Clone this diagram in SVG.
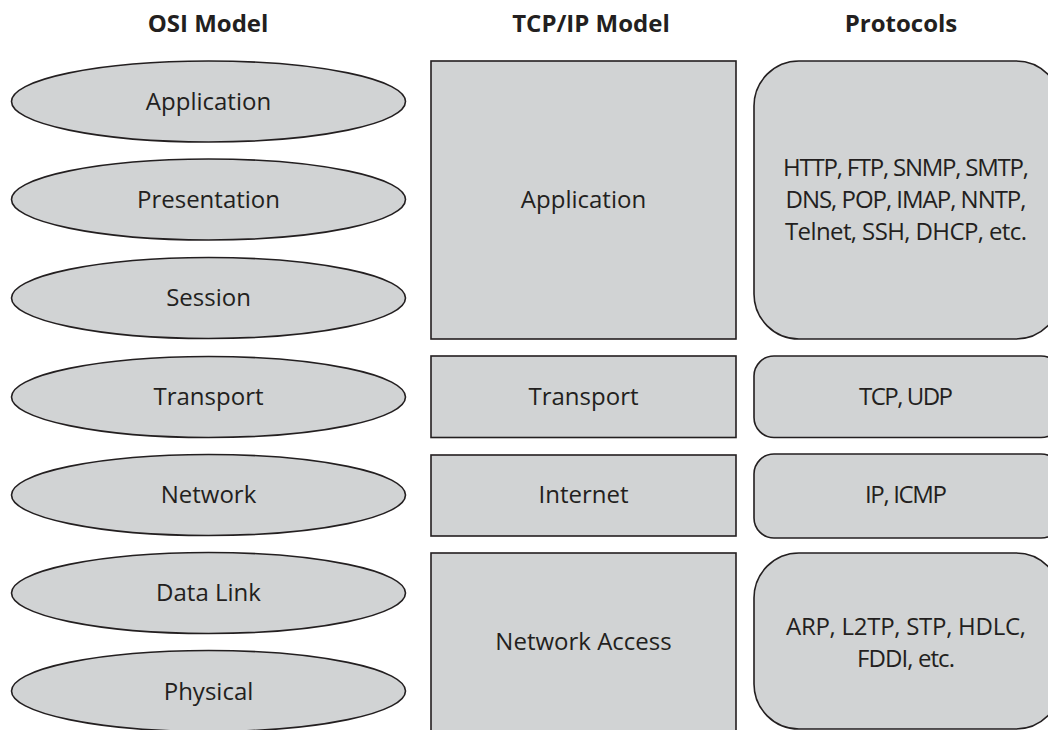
<svg xmlns="http://www.w3.org/2000/svg" width="1048" height="730" viewBox="0 0 1048 730">
<style>
.sh{fill:#d1d3d4;stroke:#231f20;stroke-width:1.6}
.t{font-family:"Open Sans","Liberation Sans",sans-serif;font-size:24px;fill:#231f20;text-anchor:middle}
.h{font-family:"Open Sans","Liberation Sans",sans-serif;font-size:24px;font-weight:bold;fill:#231f20;text-anchor:middle}
</style>
<rect width="1048" height="730" fill="#ffffff"/>
<g id="headers">
<text class="h" x="208" y="32">OSI Model</text>
<text class="h" x="591" y="32">TCP/IP Model</text>
<text class="h" x="901" y="32">Protocols</text>
</g>
<g id="osi-application"><ellipse class="sh" cx="208.5" cy="101.5" rx="197" ry="40.5"/><text class="t" x="208.5" y="110">Application</text></g>
<g id="osi-presentation"><ellipse class="sh" cx="208.5" cy="199.5" rx="197" ry="40.5"/><text class="t" x="208.5" y="208">Presentation</text></g>
<g id="osi-session"><ellipse class="sh" cx="208.5" cy="298" rx="197" ry="40.5"/><text class="t" x="208.5" y="306">Session</text></g>
<g id="osi-transport"><ellipse class="sh" cx="208.5" cy="397" rx="197" ry="40.5"/><text class="t" x="208.5" y="405">Transport</text></g>
<g id="osi-network"><ellipse class="sh" cx="208.5" cy="495" rx="197" ry="40.5"/><text class="t" x="208.5" y="503">Network</text></g>
<g id="osi-datalink"><ellipse class="sh" cx="208.5" cy="593" rx="197" ry="40.5"/><text class="t" x="208.5" y="601">Data Link</text></g>
<g id="osi-physical"><ellipse class="sh" cx="208.5" cy="691" rx="197" ry="40.5"/><text class="t" x="208.5" y="700">Physical</text></g>

<g id="tcp-application"><rect class="sh" x="431" y="61" width="305" height="278"/><text class="t" x="583.5" y="208">Application</text></g>
<g id="tcp-transport"><rect class="sh" x="431" y="356" width="305" height="81.5"/><text class="t" x="583.5" y="405">Transport</text></g>
<g id="tcp-internet"><rect class="sh" x="431" y="455" width="305" height="81"/><text class="t" x="583.5" y="503">Internet</text></g>
<g id="tcp-netaccess"><rect class="sh" x="431" y="553" width="305" height="180"/><text class="t" x="583.5" y="650">Network Access</text></g>

<g id="proto-application"><rect class="sh" x="754" y="61" width="307" height="278" rx="45" ry="45"/>
<text class="t" x="906" y="176" textLength="246">HTTP, FTP, SNMP, SMTP,</text>
<text class="t" x="906" y="208" textLength="241">DNS, POP, IMAP, NNTP,</text>
<text class="t" x="906" y="240" textLength="242">Telnet, SSH, DHCP, etc.</text></g>
<g id="proto-transport"><rect class="sh" x="754" y="356" width="307" height="81.5" rx="20" ry="20"/><text class="t" x="906" y="405" textLength="94">TCP, UDP</text></g>
<g id="proto-internet"><rect class="sh" x="754" y="454" width="307" height="84" rx="20" ry="20"/><text class="t" x="906" y="503" textLength="82">IP, ICMP</text></g>
<g id="proto-netaccess"><rect class="sh" x="754" y="553" width="307" height="176" rx="45" ry="45"/>
<text class="t" x="906" y="635" textLength="240">ARP, L2TP, STP, HDLC,</text>
<text class="t" x="906" y="667" textLength="98">FDDI, etc.</text></g>
<g id="connectors"></g>
</svg>
